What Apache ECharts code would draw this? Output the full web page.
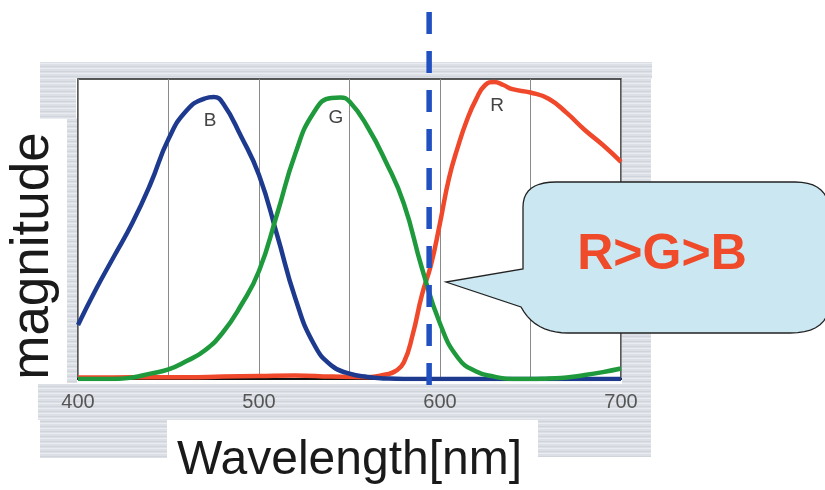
<!DOCTYPE html>
<html>
<head>
<meta charset="utf-8">
<script src="https://cdn.jsdelivr.net/npm/echarts@6/dist/echarts.min.js"></script>
<style>
  html, body { margin: 0; padding: 0; background: #ffffff; }
  #chart { width: 825px; height: 490px; }
</style>
</head>
<body>
<div id="chart"></div>
<script>
// ---- data ----
const xTickLabels = [400, 500, 600, 700];

const bWave = [400,410,420,430,440,450,460,470,475,480,490,500,510,520,530,540,550,560,570,580,600,620,640,660,680,700];
const bVal  = [18,30,41,52,65,80,89.5,93.5,94,92,81,68,48,27,12,4.5,1.8,0.7,0.2,0,0,0,0,0,0,0];

const gWave = [400,420,430,440,450,460,470,480,490,500,510,520,530,540,545,550,560,570,580,590,600,610,620,630,640,650,660,670,680,690,700];
const gVal  = [0,0,0.5,1.8,3.2,6,9.5,15.5,24.5,36,55,75,88.6,93.7,93.8,92.5,84,72.5,58.5,37,18.5,7,2.5,0.8,0,0,0.2,0.5,1.3,2.3,3.5];

const rWave = [400,420,440,460,480,500,520,540,560,570,575,580,585,590,595,600,605,610,615,620,625,630,635,640,650,660,670,680,690,700];
const rVal  = [0.5,0.5,0.6,0.6,0.8,1,1.2,0.8,0.6,1.5,2.5,5.5,15,28,38,52,67,77.6,86.5,93.3,98,99,98,96.6,95.5,93.4,88.7,83,78,72.4];

const markerWave = 594;           // dashed vertical marker
const curveLabels = [             // label, wavelength, magnitude
  ['B', 473, 86],
  ['G', 542.5, 87],
  ['R', 631.5, 91]
];
const calloutText = 'R>G>B';
const xName = 'Wavelength[nm]';
const yName = 'magnitude';

const pairs = (xs, ys) => xs.map((x, i) => [x, ys[i]]);

const chart = echarts.init(document.getElementById('chart'), null, { renderer: 'canvas' });
const FONT = 'Liberation Sans, Arial, Helvetica, sans-serif';

// streaked grey pattern for the decorative frame
const pc = document.createElement('canvas');
pc.width = 16; pc.height = 5;
const pctx = pc.getContext('2d');
pctx.fillStyle = '#dce0e6'; pctx.fillRect(0, 0, 16, 5);
pctx.fillStyle = '#d0d5dc'; pctx.fillRect(0, 1, 16, 1);
pctx.fillStyle = '#e9ecf0'; pctx.fillRect(0, 3, 16, 1);
const frameFill = { image: pc, repeat: 'repeat' };

const frameRects = [
  [40, 62, 612, 17],   // top band
  [40, 62, 36, 57],    // top-left block
  [67, 118, 10, 265],  // left strip
  [622, 62, 29, 120],  // right upper strip
  [622, 333, 29, 124], // right lower strip
  [38, 384, 613, 36],  // bottom band
  [40, 418, 127, 40],  // bottom-left block
  [538, 418, 113, 39]  // bottom-right block
].map(r => ({
  type: 'rect', z: -10, silent: true,
  shape: { x: r[0], y: r[1], width: r[2], height: r[3] },
  style: { fill: frameFill }
}));

// callout outline (decoration): straight segments + quadratic corners sampled
function calloutPoints() {
  const pts = [];
  const quad = (p0, c, p1) => {
    for (let i = 1; i <= 10; i++) {
      const t = i / 10, u = 1 - t;
      pts.push([u*u*p0[0] + 2*u*t*c[0] + t*t*p1[0], u*u*p0[1] + 2*u*t*c[1] + t*t*p1[1]]);
    }
  };
  pts.push([523, 269]);
  pts.push([523, 207]);
  quad([523, 207], [523, 182], [556, 182]);
  pts.push([795, 182]);
  quad([795, 182], [830, 182], [830, 215]);
  pts.push([830, 300]);
  quad([830, 300], [830, 333], [790, 333]);
  pts.push([568, 333]);
  quad([568, 333], [535, 333], [521, 307]);
  pts.push([446, 282]);
  return pts;
}

const baseGraphic = frameRects.concat([
  { type: 'text', silent: true, x: 33, y: 256, rotation: Math.PI / 2,
    style: { text: yName, font: '53px ' + FONT, fill: '#1a1a1a', align: 'center', verticalAlign: 'middle' } }
]);

const option = {
  animation: false,
  backgroundColor: '#ffffff',
  grid: { left: 78, right: 204, top: 79, bottom: 107, show: true,
          backgroundColor: '#ffffff', borderColor: '#222', borderWidth: 1.5 },
  xAxis: {
    type: 'value', min: 400, max: 700, interval: 50,
    axisLine: { show: true, lineStyle: { color: '#111', width: 2 } },
    axisTick: { show: false },
    splitLine: { show: true, lineStyle: { color: '#8a8a8a', width: 1 } },
    axisLabel: {
      margin: 13, color: '#555', fontSize: 20, fontFamily: FONT,
      formatter: v => (xTickLabels.indexOf(v) >= 0 ? String(v) : '')
    },
    name: xName, nameLocation: 'middle', nameGap: 58,
    nameTextStyle: { fontSize: 48, color: '#1a1a1a', fontFamily: FONT }
  },
  yAxis: {
    type: 'value', min: 0, max: 100,
    axisLine: { show: false }, axisTick: { show: false },
    axisLabel: { show: false }, splitLine: { show: false }
  },
  series: [
    { name: 'B', type: 'line', smooth: 0.5, showSymbol: false, z: 3,
      data: pairs(bWave, bVal), lineStyle: { color: '#1d3a8e', width: 4.5 } },
    { name: 'G', type: 'line', smooth: 0.5, showSymbol: false, z: 4,
      data: pairs(gWave, gVal), lineStyle: { color: '#1e9a3c', width: 4.5 } },
    { name: 'R', type: 'line', smooth: 0.5, showSymbol: false, z: 2,
      data: pairs(rWave, rVal), lineStyle: { color: '#f0482a', width: 4.5 } }
  ],
  graphic: baseGraphic
};
chart.setOption(option);

// elements placed through the axes' scales
const mx = chart.convertToPixel({ xAxisIndex: 0 }, markerWave);
const extra = [
  { type: 'line', z: 50, silent: true,
    shape: { x1: mx, y1: 12, x2: mx, y2: 392 },
    style: { stroke: '#2150c0', lineWidth: 5.5, lineDash: [22, 17] } }
];
curveLabels.forEach(l => {
  const p = chart.convertToPixel({ xAxisIndex: 0, yAxisIndex: 0 }, [l[1], l[2]]);
  extra.push({ type: 'text', z: 40, silent: true, x: p[0], y: p[1],
    style: { text: l[0], font: '19px ' + FONT, fill: '#444', align: 'center', verticalAlign: 'middle' } });
});
extra.push({ type: 'polygon', z: 100, silent: true,
  shape: { points: calloutPoints() },
  style: { fill: '#cbe8f2', stroke: '#222', lineWidth: 1.3 } });
extra.push({ type: 'text', z: 101, silent: true, x: 662, y: 255,
  style: { text: calloutText, font: 'bold 50px ' + FONT, fill: '#ef4a2a', align: 'center', verticalAlign: 'middle' } });

chart.setOption({ graphic: baseGraphic.concat(extra) });
</script>
</body>
</html>
